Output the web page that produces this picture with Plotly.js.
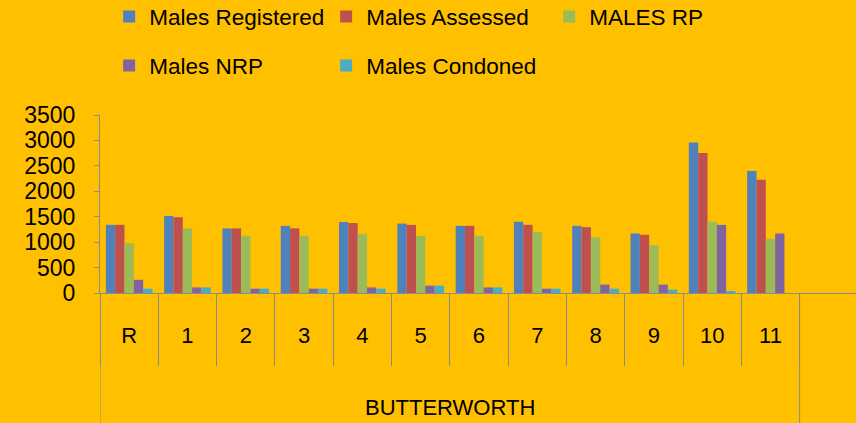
<!DOCTYPE html>
<html>
<head>
<meta charset="utf-8">
<script src="https://cdn.plot.ly/plotly-3.0.1.min.js"></script>
<style>html,body{margin:0;padding:0;background:#FFC000;}#chart{width:856px;height:423px;}</style>
</head>
<body>
<div id="chart"></div>
<script>
// ---- data ----
var groupLabel = "BUTTERWORTH";
var categories = ["R","1","2","3","4","5","6","7","8","9","10","11"," "];
var seriesNames = ["Males Registered","Males Assessed","MALES RP","Males NRP","Males Condoned"];
var malesRegistered = [1340,1515,1270,1320,1395,1365,1320,1400,1320,1170,2960,2400,null];
var malesAssessed   = [1340,1490,1270,1270,1375,1340,1320,1340,1295,1145,2755,2225,null];
var malesRP         = [980,1270,1125,1125,1165,1125,1125,1195,1095,940,1400,1065,null];
var malesNRP        = [260,110,85,85,110,145,110,85,165,165,1340,1170,null];
var malesCondoned   = [85,110,85,85,85,145,110,85,85,65,40,0,null];
var colors = ["#4F81BD","#C0504D","#9BBB59","#8064A2","#4BACC6"];

var values = [malesRegistered, malesAssessed, malesRP, malesNRP, malesCondoned];
var legendIds = ["legend","legend","legend","legend2","legend2"];
var legendWidths = [172,178,200,172,200];
var FONT = "Liberation Sans, Arial, sans-serif";
var AXIS = "#8C8C8C";

var traces = values.map(function(v,i){
  return {
    type: "bar",
    name: seriesNames[i],
    x: categories,
    y: v,
    marker: {color: colors[i]},
    legend: legendIds[i],
    legendwidth: legendWidths[i],
    hoverinfo: "y+name"
  };
});

// group boundaries (left edge of first category, right edge of last labelled category)
var nGroup = categories.length - 1;
var groupEdges = [-0.5, nGroup - 0.5];

var layout = {
  width: 856, height: 423,
  paper_bgcolor: "#FFC000",
  plot_bgcolor: "#FFC000",
  margin: {l: 100, r: 0, t: 115, b: 130, pad: 0},
  font: {family: FONT, color: "#000000", size: 22},
  barmode: "group",
  bargap: 0.2,
  bargroupgap: 0,
  showlegend: true,
  legend: {
    orientation: "h", xref: "container", yref: "container",
    x: 0.1275, xanchor: "left", y: 0.96, yanchor: "middle",
    bgcolor: "rgba(0,0,0,0)", borderwidth: 0,
    font: {family: FONT, size: 22.5, color: "#000"}
  },
  legend2: {
    orientation: "h", xref: "container", yref: "container",
    x: 0.1275, xanchor: "left", y: 0.844, yanchor: "middle",
    bgcolor: "rgba(0,0,0,0)", borderwidth: 0,
    font: {family: FONT, size: 22.5, color: "#000"}
  },
  xaxis: {
    type: "category",
    range: [-0.5, 12.467],
    showline: true, linecolor: AXIS, linewidth: 1,
    ticks: "outside", tickson: "boundaries", ticklen: 72, tickcolor: AXIS, tickwidth: 1,
    ticklabelstandoff: 23,
    showgrid: false, zeroline: false,
    tickfont: {family: FONT, size: 22, color: "#000"}
  },
  yaxis: {
    range: [0, 3500],
    dtick: 500, tick0: 0,
    showline: true, linecolor: AXIS, linewidth: 1,
    ticks: "outside", ticklen: 5, tickcolor: AXIS,
    showgrid: false, zeroline: false,
    ticklabelstandoff: 14,
    tickfont: {family: FONT, size: 23, color: "#000"}
  },
  shapes: groupEdges.map(function(e){
    return {type: "line", xref: "x", yref: "paper", x0: e, x1: e, y0: 0, y1: -0.75,
            line: {color: AXIS, width: 1}};
  }),
  annotations: [{
    text: groupLabel, xref: "x", yref: "paper",
    x: (groupEdges[0] + groupEdges[1]) / 2, y: -0.645,
    xanchor: "center", yanchor: "middle", showarrow: false,
    font: {family: FONT, size: 22, color: "#000"}
  }]
};

Plotly.newPlot("chart", traces, layout, {displayModeBar: false, staticPlot: true});
</script>
</body>
</html>
